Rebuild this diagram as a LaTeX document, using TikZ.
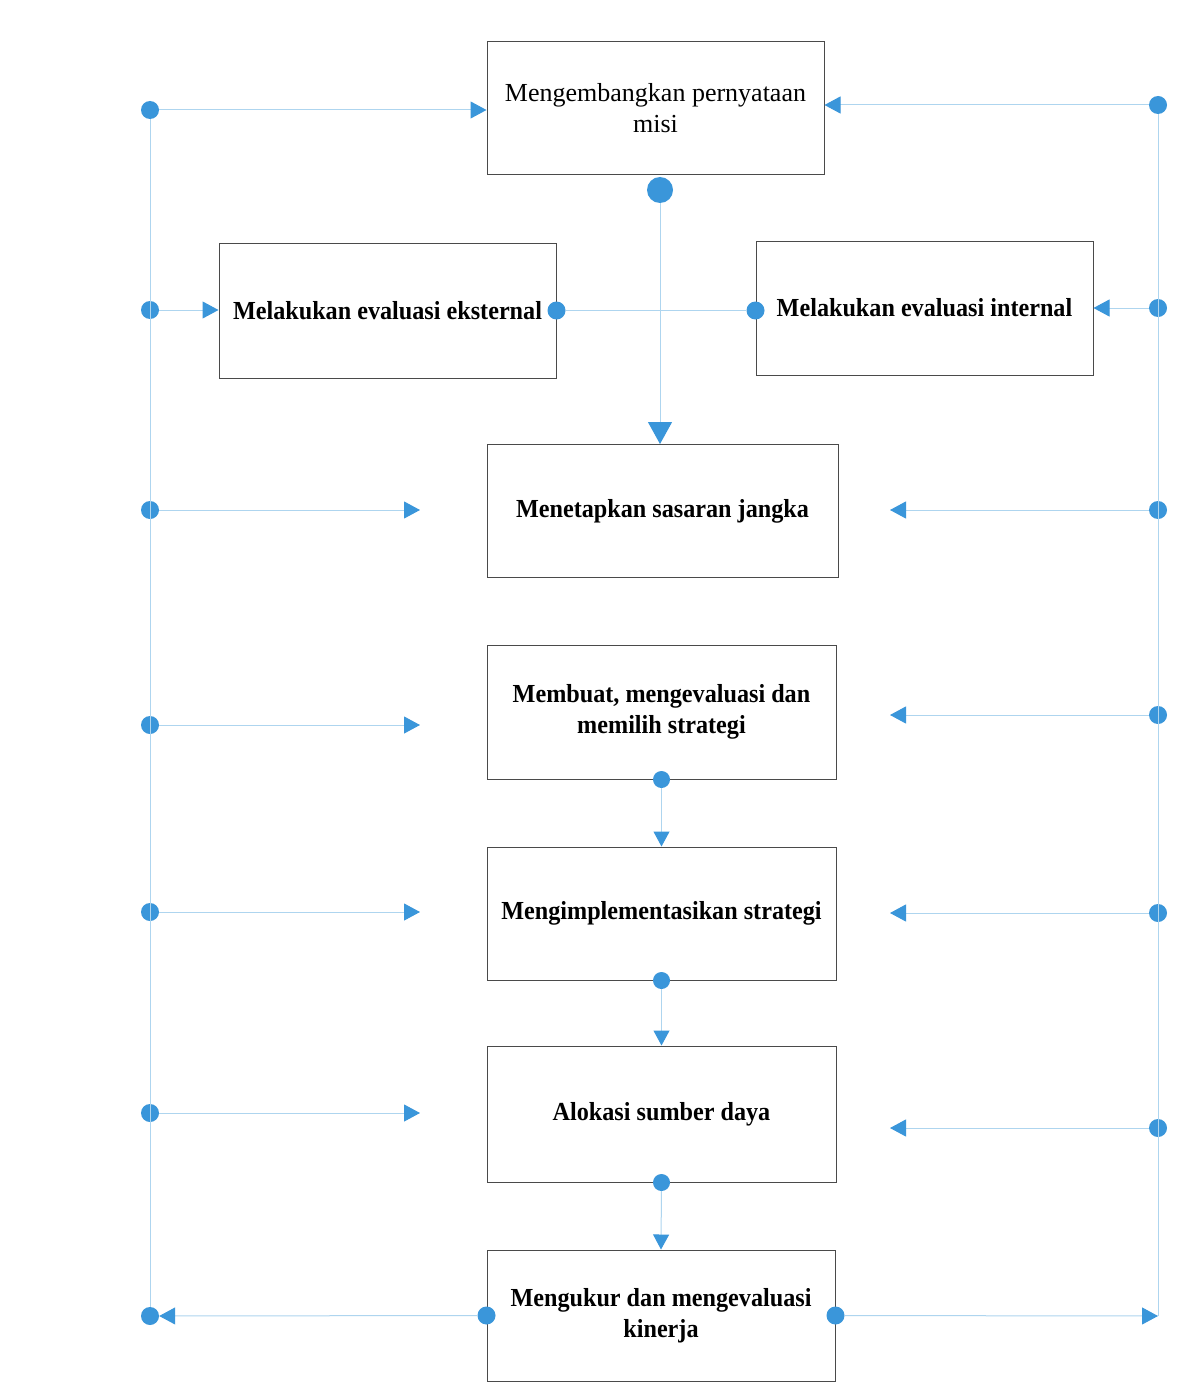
\documentclass[tikz,border=0pt]{standalone}
\usepackage{fontspec}
\setmainfont{Liberation Serif}
\newfontfamily\stagebf[FakeStretch=0.93]{Liberation Serif}
\usetikzlibrary{arrows.meta}
\definecolor{dotblue}{HTML}{3A96DA}
\definecolor{lineblue}{HTML}{AED5EF}
\definecolor{boxgray}{HTML}{4A4A4A}

\begin{document}
\begin{tikzpicture}[x=1pt, y=-1pt,
    stage/.style={draw=boxgray, line width=1pt, inner sep=0pt, align=center, font=\fontsize{26}{31}\selectfont},
    boldstage/.style={stage, font=\fontsize{26}{31}\selectfont\stagebf\bfseries},
    bluedot/.style={circle, fill=dotblue, inner sep=0pt, minimum size=18pt},
    link/.style={lineblue, line width=1pt},
    arr/.style={link, -{Triangle[length=16pt, width=17pt, color=dotblue]}},
    downarr/.style={link, -{Triangle[length=15pt, width=16pt, color=dotblue]}},
    bigarr/.style={link, -{Triangle[length=22pt, width=24pt, color=dotblue]}},
  ]
    \useasboundingbox[fill=white] (0,0) rectangle (1177,1383);

    % Stages of the process
    \node[stage, minimum width=337pt, minimum height=133pt] (mission) at (655.5,108.5) {Mengembangkan pernyataan\\misi};
    \node[boldstage, minimum width=337pt, minimum height=135pt] (external) at (387.5,310.5) {Melakukan evaluasi eksternal};
    \node[boldstage, minimum width=337pt, minimum height=134pt] (internal) at (924.5,308) {Melakukan evaluasi internal};
    \node[boldstage, minimum width=351pt, minimum height=133pt] (goals) at (662.5,511) {Menetapkan sasaran jangka};
    \node[boldstage, minimum width=349pt, minimum height=134pt] (choose) at (661.5,712) {Membuat, mengevaluasi dan\\memilih strategi};
    \node[boldstage, minimum width=349pt, minimum height=133pt] (implement) at (661.5,913.5) {Mengimplementasikan strategi};
    \node[boldstage, minimum width=349pt, minimum height=136pt] (allocate) at (661.5,1114) {Alokasi sumber daya};
    \node[boldstage, minimum width=348pt, minimum height=131pt] (measure) at (661,1315.5) {Mengukur dan mengevaluasi\\kinerja};

    % Feedback line on the left
    \foreach \n/\y in {1/110, 2/310, 3/510, 4/725, 5/912, 6/1113, 7/1316} {
        \node[bluedot] (L\n) at (150,\y) {};
    }
    \draw[link] (L1) -- (L7);
    \draw[arr] (L1) -- (mission.west |- L1);
    \draw[arr] (L2) -- (external.west |- L2);
    \foreach \n in {3,...,6} {
        \path (L\n) ++(270,0) coordinate (Lend\n);
        \draw[arr] (L\n) -- (Lend\n);
    }

    % Feedback line on the right
    \foreach \n/\y in {1/105, 2/308, 3/510, 4/715, 5/913, 6/1128} {
        \node[bluedot] (R\n) at (1158,\y) {};
    }
    \coordinate (R7) at (1158,1316);
    \draw[link] (R1) -- (R7);
    \draw[arr] (R1) -- (mission.east |- R1);
    \draw[arr] (R2) -- (internal.east |- R2);
    \foreach \n in {3,...,6} {
        \path (R\n) ++(-268,0) coordinate (Rend\n);
        \draw[arr] (R\n) -- (Rend\n);
    }

    % Main flow down the middle
    \node[bluedot, minimum size=26pt] (hub) at (660,190) {};
    \node[bluedot] (extout) at (external.east) {};
    \node[bluedot] (intin) at (internal.west |- extout) {};
    \draw[link] (extout) -- (intin);
    \draw[bigarr] (hub) -- (hub |- goals.north);

    \node[bluedot, minimum size=17pt] (chooseout) at (choose.south) {};
    \node[bluedot, minimum size=17pt] (implementout) at (implement.south) {};
    \node[bluedot, minimum size=17pt] (allocateout) at (allocate.south) {};
    \draw[downarr] (chooseout) -- (implement.north);
    \draw[downarr] (implementout) -- (allocate.north);
    \draw[downarr] (allocateout) -- (measure.north);

    % Measuring feeds both lines
    \node[bluedot] (measurein) at (measure.west) {};
    \node[bluedot] (measureout) at (measure.east) {};
    \draw[arr] (measurein) -- (L7);
    \draw[arr] (measureout) -- (R7);
\end{tikzpicture}
\end{document}
